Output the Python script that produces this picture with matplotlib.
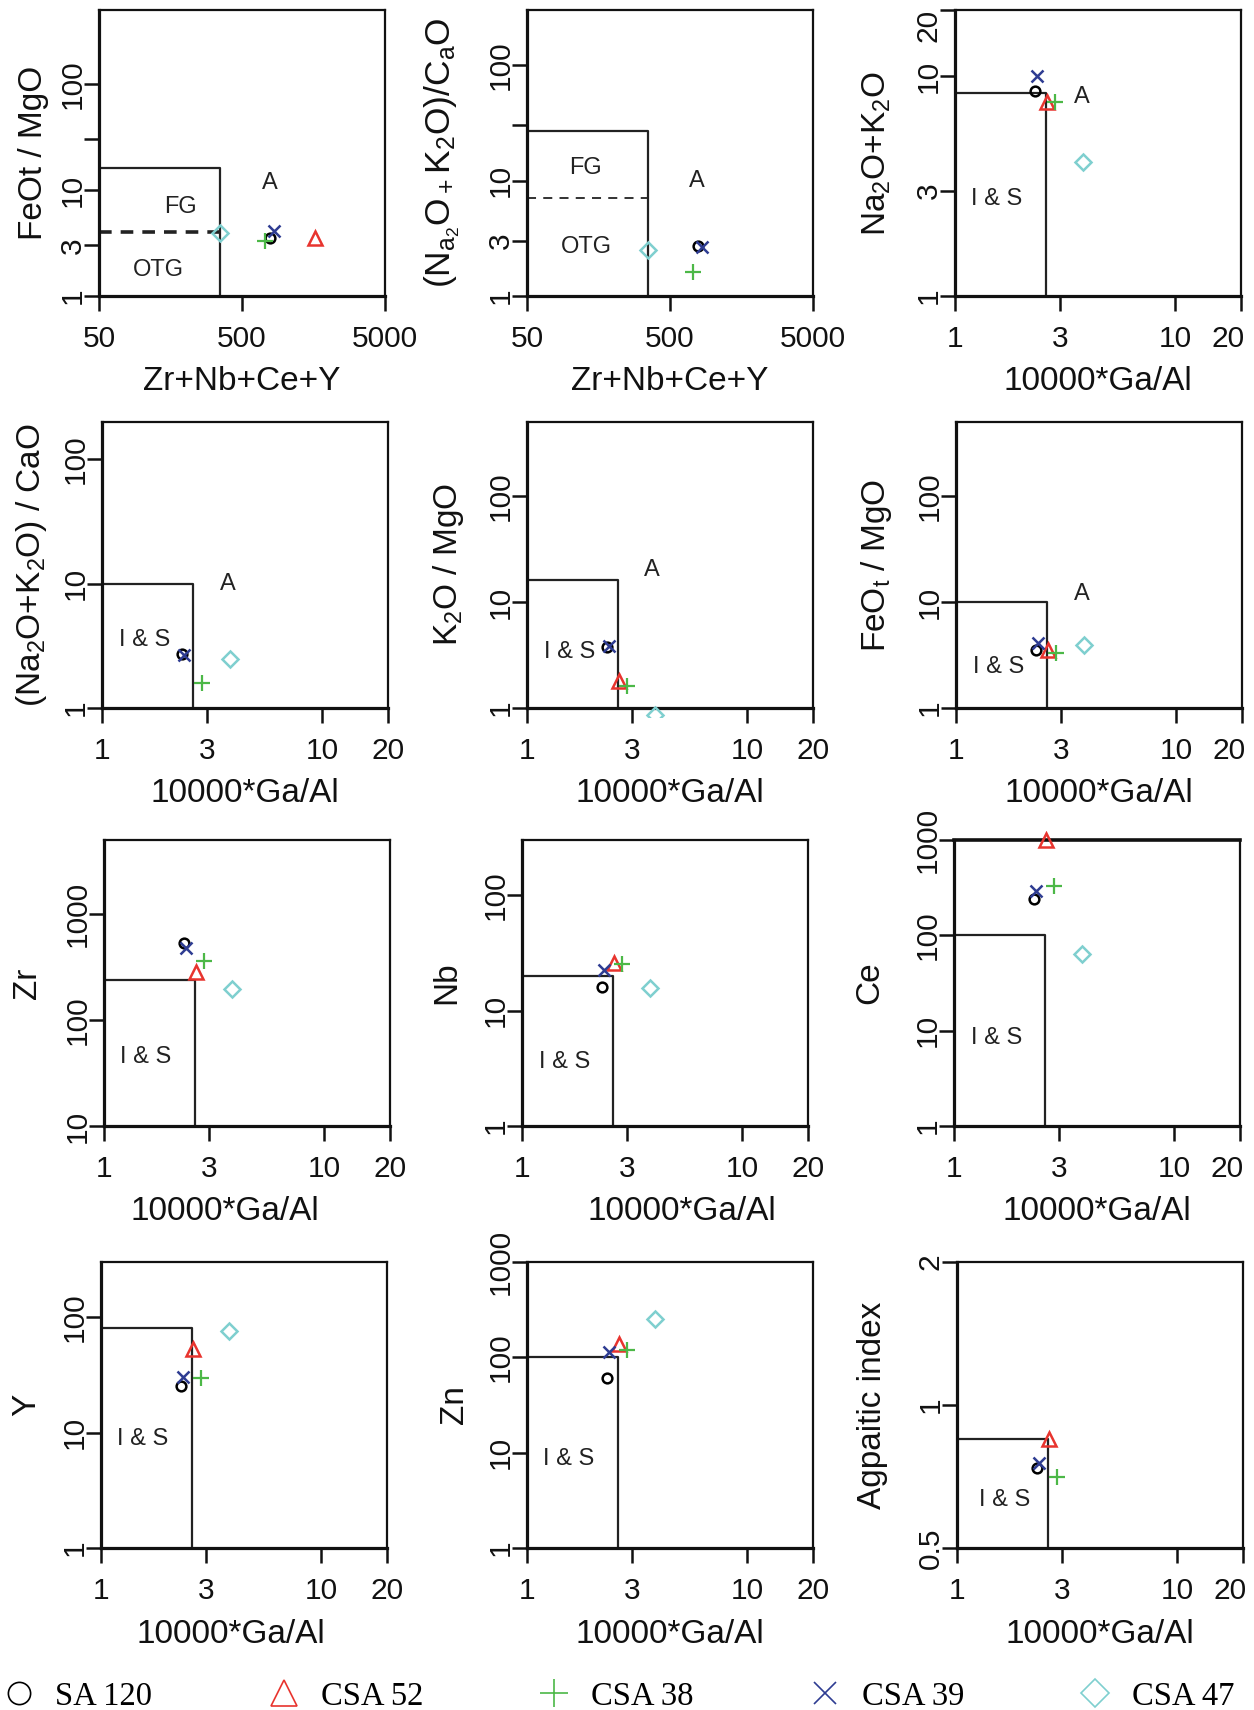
import numpy as np
import matplotlib
matplotlib.use('Agg')
import matplotlib.pyplot as plt
from matplotlib.ticker import FixedLocator, FixedFormatter, NullLocator
from matplotlib.lines import Line2D
from matplotlib.patches import Rectangle
from matplotlib.transforms import ScaledTranslation

plt.rcParams['font.family'] = ['Liberation Sans', 'DejaVu Sans']
plt.rcParams['mathtext.fontset'] = 'custom'
plt.rcParams['mathtext.rm'] = 'Liberation Sans'
plt.rcParams['mathtext.it'] = 'Liberation Sans:italic'
plt.rcParams['mathtext.default'] = 'regular'

nan = np.nan
# ---------------- data ----------------
samples = ['SA 120', 'CSA 52', 'CSA 38', 'CSA 39', 'CSA 47']
ga_al = [2.31, 2.63, 2.86, 2.37, 3.84]
zr_nb_ce_y = [790, 1620, 720, 840, 350]
feot_mgo = [3.55, 3.5, 3.3, 4.1, 3.9]
alk_cao = [2.73, nan, 1.6, 2.67, 2.5]
na2o_k2o = [8.6, 7.6, 7.6, 10.0, 4.06]
k2o_mgo = [3.75, 1.81, 1.63, 3.85, 0.86]
zr = [537, 286, 363, 475, 196]
nb = [16, 25.6, 25.3, 22.4, 15.8]
ce = [239, 1000, 330, 290, 63]
y_ppm = [25.5, 53, 29.5, 30, 75.5]
zn = [60, 139, 118, 114, 250]
agpaitic = [0.737, 0.85, 0.706, 0.755, nan]

ga_ticks = [1, 3, 10, 20]
sum_ticks = [50, 500, 5000]

RED = '#e8342e'
GREEN = '#4cb847'
BLUE = '#2e3c92'
CYAN = '#7fcfcf'
styles = [
    dict(marker='o', ms=7, mec='black', mfc='none', mew=1.8),
    dict(marker='^', ms=10.5, mec=RED, mfc='none', mew=1.8),
    dict(marker='+', ms=11.5, mec=GREEN, mew=1.6),
    dict(marker='x', ms=8.5, mec=BLUE, mew=1.8),
    dict(marker='D', ms=8, mec=CYAN, mfc='none', mew=1.8),
]

IS = 'I & S'
panels = [
    dict(x=zr_nb_ce_y, y=feot_mgo, xlim=(50, 5000), ylim=(1, 500),
         xt=sum_ticks, xtl=['50', '500', '5000'],
         yt=[1, 3, 10, 30, 100], ytl=['1', '3', '10', '', '100'],
         xlabel='Zr+Nb+Ce+Y', ylabel='FeOt / MgO',
         box=(350, 16), dash=4, dash_lw=2.6,
         texts=[('A', 780, 11.6), ('FG', 186, 6.9), ('OTG', 130, 1.76)]),
    dict(x=zr_nb_ce_y, y=alk_cao, xlim=(50, 5000), ylim=(1, 300),
         xt=sum_ticks, xtl=['50', '500', '5000'],
         yt=[1, 3, 10, 30, 100], ytl=['1', '3', '10', '', '100'],
         xlabel='Zr+Nb+Ce+Y', ylabel=r'(N$_{a_2}$O$_+$K$_2$O)/C$_a$O',
         ylabel_size=25.5,
         box=(350, 27), dash=7, dash_lw=1.3,
         texts=[('A', 776, 9.9), ('FG', 129, 12.8), ('OTG', 130, 2.65)]),
    dict(x=ga_al, y=na2o_k2o, xlim=(1, 20), ylim=(1, 20),
         xt=ga_ticks, yt=[1, 3, 10, 20],
         xlabel='10000*Ga/Al', ylabel=r'Na$_2$O+K$_2$O',
         box=(2.6, 8.4), texts=[('A', 3.78, 8.0), (IS, 1.55, 2.76)]),
    dict(x=ga_al, y=alk_cao, xlim=(1, 20), ylim=(1, 200),
         xt=ga_ticks, yt=[1, 10, 100],
         xlabel='10000*Ga/Al', ylabel=r'(Na$_2$O+K$_2$O) / CaO',
         box=(2.6, 10), texts=[('A', 3.72, 10.0), (IS, 1.57, 3.5)]),
    dict(x=ga_al, y=k2o_mgo, xlim=(1, 20), ylim=(1, 500),
         xt=ga_ticks, yt=[1, 10, 100],
         xlabel='10000*Ga/Al', ylabel=r'K$_2$O / MgO',
         box=(2.6, 16), texts=[('A', 3.7, 20.0), (IS, 1.57, 3.4)]),
    dict(x=ga_al, y=feot_mgo, xlim=(1, 20), ylim=(1, 500),
         xt=ga_ticks, yt=[1, 10, 100],
         xlabel='10000*Ga/Al', ylabel=r'FeO$_t$ / MgO',
         box=(2.6, 10), texts=[('A', 3.74, 12.0), (IS, 1.56, 2.46)]),
    dict(x=ga_al, y=zr, xlim=(1, 20), ylim=(10, 5000),
         xt=ga_ticks, yt=[10, 100, 1000],
         xlabel='10000*Ga/Al', ylabel='Zr',
         box=(2.6, 240), texts=[(IS, 1.55, 45)]),
    dict(x=ga_al, y=nb, xlim=(1, 20), ylim=(1, 300),
         xt=ga_ticks, yt=[1, 10, 100],
         xlabel='10000*Ga/Al', ylabel='Nb',
         box=(2.6, 20), texts=[(IS, 1.56, 3.55)]),
    dict(x=ga_al, y=ce, xlim=(1, 20), ylim=(1, 1000),
         xt=ga_ticks, yt=[1, 10, 100, 1000],
         xlabel='10000*Ga/Al', ylabel='Ce',
         box=(2.6, 100), texts=[(IS, 1.56, 8.45)], thicktop=True),
    dict(x=ga_al, y=y_ppm, xlim=(1, 20), ylim=(1, 300),
         xt=ga_ticks, yt=[1, 10, 100],
         xlabel='10000*Ga/Al', ylabel='Y',
         box=(2.6, 80), texts=[(IS, 1.54, 8.8)]),
    dict(x=ga_al, y=zn, xlim=(1, 20), ylim=(1, 1000),
         xt=ga_ticks, yt=[1, 10, 100, 1000],
         xlabel='10000*Ga/Al', ylabel='Zn',
         box=(2.6, 100), texts=[(IS, 1.55, 8.5)]),
    dict(x=ga_al, y=agpaitic, xlim=(1, 20), ylim=(0.5, 2),
         xt=ga_ticks, yt=[0.5, 1, 2], ytl=['0.5', '1', '2'],
         xlabel='10000*Ga/Al', ylabel='Agpaitic index',
         box=(2.6, 0.85), texts=[(IS, 1.65, 0.632)]),
]

# ---------------- layout (pixels of the 1254x1710 canvas) ----------------
W, H = 1254, 1710
row_top = [10, 422, 840, 1262]
col_left = [[99, 527, 955], [102, 527, 956], [104, 522, 954], [101, 527, 957]]
size = 286
ylab_off = [66, 85, 78, 70, 79, 79, 77, 75, 84, 74, 72, 85]
xlab_dx = [0, 0, 0, 0, 0, 0, -22, 17, 0, -13, 0, 0]
clip_pad = 9 / size

fig = plt.figure(figsize=(W / 100, H / 100), dpi=100)

for i, p in enumerate(panels):
    r, c = divmod(i, 3)
    left = col_left[r][c]
    top = row_top[r]
    ax = fig.add_axes([left / W, 1 - (top + size) / H, size / W, size / H])
    ax.set_xscale('log')
    ax.set_yscale('log')
    ax.set_xlim(*p['xlim'])
    ax.set_ylim(*p['ylim'])

    # classification boundaries
    x0, y0 = p['xlim'][0], p['ylim'][0]
    bx, by = p['box']
    ax.plot([x0, bx, bx], [by, by, y0], color='#222222', lw=1.6, zorder=2)
    if 'dash' in p:
        ax.plot([x0, bx], [p['dash'], p['dash']], color='#222222',
                lw=p['dash_lw'], dashes=(3.5, 2.5) if p['dash_lw'] > 2 else (5, 4),
                zorder=2)

    clip_rect = Rectangle((-clip_pad, -clip_pad), 1 + 2 * clip_pad, 1 + 2 * clip_pad,
                          transform=ax.transAxes, facecolor='none', edgecolor='none')
    for xs, ys, st in zip(p['x'], p['y'], styles):
        ln, = ax.plot([xs], [ys], ls='none', zorder=3, **st)
        ln.set_clip_path(clip_rect)

    for s, tx, ty in p['texts']:
        ax.text(tx, ty, s, ha='center', va='center', fontsize=17, color='#222222')

    # ticks
    ax.xaxis.set_major_locator(FixedLocator(p['xt']))
    ax.xaxis.set_major_formatter(FixedFormatter(p.get('xtl', [str(v) for v in p['xt']])))
    ax.xaxis.set_minor_locator(NullLocator())
    ax.yaxis.set_major_locator(FixedLocator(p['yt']))
    ax.yaxis.set_major_formatter(FixedFormatter(p.get('ytl', [str(v) for v in p['yt']])))
    ax.yaxis.set_minor_locator(NullLocator())
    ax.tick_params(axis='both', direction='out', length=10.8, width=1.8,
                   labelsize=21.5, color='#111111', labelcolor='#111111')
    ax.tick_params(axis='x', pad=10)
    ax.tick_params(axis='y', pad=-2, labelrotation=90)
    for lab in ax.get_yticklabels():
        lab.set_verticalalignment('center')

    # labels at the figure edge are nudged inward as in the reference
    if c == 2:
        t = ax.xaxis.get_major_ticks(len(p['xt']))[-1]
        t.label1.set_transform(t.label1.get_transform() +
                               ScaledTranslation(-0.13, 0, fig.dpi_scale_trans))
    if r == 0 and c == 2:
        t = ax.yaxis.get_major_ticks(len(p['yt']))[-1]
        t.label1.set_transform(t.label1.get_transform() +
                               ScaledTranslation(0, -0.15, fig.dpi_scale_trans))

    for side in ['left', 'bottom']:
        ax.spines[side].set_linewidth(2.3)
    for side in ['top', 'right']:
        ax.spines[side].set_linewidth(1.6)
    if p.get('thicktop'):
        ax.spines['top'].set_linewidth(2.6)
    for sp in ax.spines.values():
        sp.set_color('#111111')

    ax.set_xlabel(p['xlabel'], fontsize=24, color='#111111')
    ax.xaxis.set_label_coords(0.5 + xlab_dx[i] / size, -86 / size)
    ax.xaxis.label.set_verticalalignment('center')
    ax.set_ylabel(p['ylabel'], fontsize=p.get('ylabel_size', 24), color='#111111')
    ax.yaxis.set_label_coords(-ylab_off[i] / size, 0.5)
    ax.yaxis.label.set_verticalalignment('center')

# ---------------- legend ----------------
leg_sizes = [16, 19, 20, 16, 14]
handles = []
for st, ms in zip(styles, leg_sizes):
    h = dict(st)
    h['ms'] = ms
    h['mew'] = 1.2
    handles.append(Line2D([], [], ls='none', **h))
fig.legend(handles, samples, ncol=5, loc='lower left',
           bbox_to_anchor=(0.0, -0.001), frameon=False, borderpad=0,
           borderaxespad=0, handlelength=1.15, handletextpad=0.55,
           columnspacing=3.45,
           prop=dict(family=['Liberation Serif', 'DejaVu Serif'], size=23.5))

fig.savefig('out.png', dpi=100)
